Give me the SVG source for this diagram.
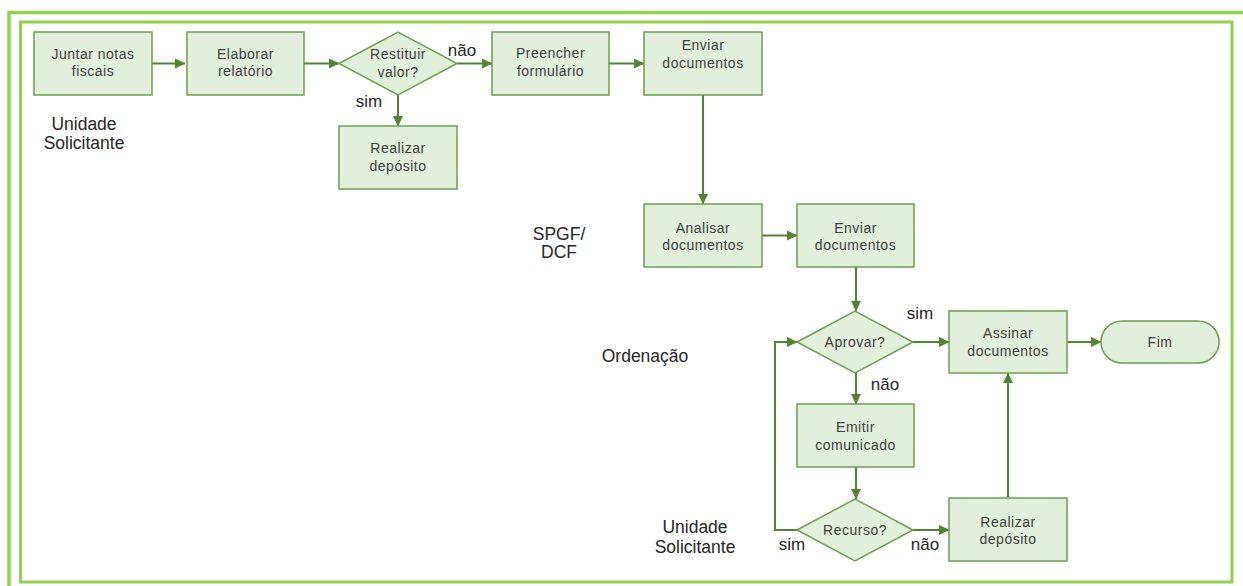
<svg xmlns="http://www.w3.org/2000/svg" width="1243" height="586" viewBox="0 0 1243 586">
<style>
.frame{fill:none;stroke:#92D050}
.box{fill:#E2EFDA;stroke:#6E9E4F;stroke-width:1.5}
.t{font-family:"Liberation Sans",Arial,sans-serif;font-size:14px;letter-spacing:0.5px;fill:#404040;text-anchor:middle}
.lbl{font-family:"Liberation Sans",Arial,sans-serif;font-size:17.5px;fill:#262626;text-anchor:middle}
.yn{font-family:"Liberation Sans",Arial,sans-serif;font-size:17px;fill:#262626;text-anchor:middle}
.c{fill:none;stroke:#548235;stroke-width:2}
</style>
<defs>
<marker id="ah" markerUnits="userSpaceOnUse" markerWidth="11" markerHeight="11" viewBox="0 0 11 11" refX="10" refY="5.5" orient="auto">
<path d="M0,0.5 L10.5,5.5 L0,10.5 Z" fill="#548235"/>
</marker>
</defs>
<rect width="1243" height="586" fill="#ffffff"/>
<rect class="frame" x="9" y="12.5" width="1260" height="600" stroke-width="3.5"/>
<rect class="frame" x="20.5" y="22" width="1211.5" height="560" stroke-width="3"/>

<g id="lane-labels">
<text class="lbl" x="84" y="130">Unidade</text>
<text class="lbl" x="84" y="149">Solicitante</text>
<text class="lbl" x="559" y="240">SPGF/</text>
<text class="lbl" x="559" y="258">DCF</text>
<text class="lbl" x="645" y="362">Ordenação</text>
<text class="lbl" x="695" y="533">Unidade</text>
<text class="lbl" x="695" y="553">Solicitante</text>
</g>

<g id="connectors">
<path class="c" d="M152,63.5 H185" marker-end="url(#ah)"/>
<path class="c" d="M304,63.5 H339" marker-end="url(#ah)"/>
<path class="c" d="M457,63.5 H492" marker-end="url(#ah)"/>
<path class="c" d="M398,95 V126" marker-end="url(#ah)"/>
<path class="c" d="M609,63.5 H644" marker-end="url(#ah)"/>
<path class="c" d="M703,95 V204" marker-end="url(#ah)"/>
<path class="c" d="M762,235.5 H797" marker-end="url(#ah)"/>
<path class="c" d="M856,267 V311" marker-end="url(#ah)"/>
<path class="c" d="M913,342 H949" marker-end="url(#ah)"/>
<path class="c" d="M1067,342 H1101" marker-end="url(#ah)"/>
<path class="c" d="M856,373 V404" marker-end="url(#ah)"/>
<path class="c" d="M856,467 V499" marker-end="url(#ah)"/>
<path class="c" d="M913,530 H949" marker-end="url(#ah)"/>
<path class="c" d="M1008,498 V373" marker-end="url(#ah)"/>
<path class="c" d="M797,530 H775 V342 H797" marker-end="url(#ah)"/>
<text class="yn" x="462" y="56">não</text>
<text class="yn" x="369" y="107">sim</text>
<text class="yn" x="920" y="319">sim</text>
<text class="yn" x="885" y="390">não</text>
<text class="yn" x="792" y="550">sim</text>
<text class="yn" x="925" y="550">não</text>
</g>

<g id="n-juntar"><rect class="box" x="34" y="32" width="118" height="63"/><text class="t" x="93" y="59">Juntar notas</text><text class="t" x="93" y="76">fiscais</text></g>
<g id="n-elaborar"><rect class="box" x="187" y="32" width="117" height="63"/><text class="t" x="245.5" y="59">Elaborar</text><text class="t" x="245.5" y="76">relatório</text></g>
<g id="n-restituir"><path class="box" d="M339,63.5 L398,32 L457,63.5 L398,95 Z"/><text class="t" x="398" y="59">Restituir</text><text class="t" x="398" y="77">valor?</text></g>
<g id="n-realizar1"><rect class="box" x="339" y="126" width="118" height="63"/><text class="t" x="398" y="153">Realizar</text><text class="t" x="398" y="171">depósito</text></g>
<g id="n-preencher"><rect class="box" x="492" y="32" width="117" height="63"/><text class="t" x="550.5" y="58">Preencher</text><text class="t" x="550.5" y="76">formulário</text></g>
<g id="n-enviar1"><rect class="box" x="644" y="32" width="118" height="63"/><text class="t" x="703" y="50">Enviar</text><text class="t" x="703" y="68">documentos</text></g>
<g id="n-analisar"><rect class="box" x="644" y="204" width="118" height="63"/><text class="t" x="703" y="233">Analisar</text><text class="t" x="703" y="250">documentos</text></g>
<g id="n-enviar2"><rect class="box" x="797" y="204" width="117" height="63"/><text class="t" x="855.5" y="233">Enviar</text><text class="t" x="855.5" y="250">documentos</text></g>
<g id="n-aprovar"><path class="box" d="M797,342 L855,311 L913,342 L855,373 Z"/><text class="t" x="855" y="347">Aprovar?</text></g>
<g id="n-assinar"><rect class="box" x="949" y="311" width="118" height="62"/><text class="t" x="1008" y="338">Assinar</text><text class="t" x="1008" y="356">documentos</text></g>
<g id="n-fim"><rect class="box" x="1101" y="321" width="118" height="42" rx="21" ry="21"/><text class="t" x="1160" y="347">Fim</text></g>
<g id="n-emitir"><rect class="box" x="797" y="404" width="117" height="63"/><text class="t" x="855.5" y="432">Emitir</text><text class="t" x="855.5" y="450">comunicado</text></g>
<g id="n-recurso"><path class="box" d="M797,530 L855,499 L913,530 L855,561 Z"/><text class="t" x="855" y="535">Recurso?</text></g>
<g id="n-realizar2"><rect class="box" x="949" y="498" width="118" height="63"/><text class="t" x="1008" y="527">Realizar</text><text class="t" x="1008" y="544">depósito</text></g>
</svg>
